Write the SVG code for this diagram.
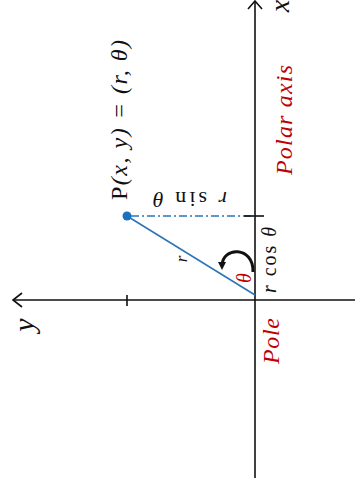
<svg xmlns="http://www.w3.org/2000/svg" width="355" height="493" viewBox="0 0 355 493">
<style>
.ax{stroke:#111;stroke-width:1.6;fill:none}
.m{font-family:"Liberation Serif",serif;font-style:italic;fill:#111}
.red{fill:#C00000}
.up{font-style:normal}
</style>
<defs>
<marker id="ah" markerWidth="8" markerHeight="8" refX="4" refY="4" orient="auto" markerUnits="userSpaceOnUse">
<path d="M0,0 L8,4 L0,8 Z" fill="#111"/>
</marker>
</defs>
<rect width="355" height="493" fill="#fff"/>
<g id="connectors">
<line class="ax" x1="255" y1="1" x2="255" y2="478"/>
<polyline class="ax" points="248,9 255,1 262,9"/>
<line class="ax" x1="13" y1="300" x2="355" y2="300"/>
<polyline class="ax" points="22,293 13,300 22,307"/>
<line class="ax" x1="127" y1="295" x2="127" y2="306"/>
<line x1="131" y1="216" x2="255" y2="216" stroke="#2E75B6" stroke-width="1.3" stroke-dasharray="8 3 2 3"/>
<line class="ax" x1="244" y1="216" x2="264" y2="216"/>
<line x1="127" y1="216" x2="255" y2="295" stroke="#2E75B6" stroke-width="1.6"/>
<path d="M253,272 C254,246 222,246 222,266" stroke="#111" stroke-width="3" fill="none" marker-end="url(#ah)"/>
</g>
<g id="point-P">
<circle cx="127" cy="216" r="4.5" fill="#1F6FC0"/>
<text class="m" x="127" y="120" font-size="24" text-anchor="middle" textLength="160" lengthAdjust="spacing" transform="rotate(-90 127 120)"><tspan class="up">P</tspan>(x, y) = (r, θ)</text>
</g>
<g id="labels">
<text class="m" x="190" y="192" font-size="22" text-anchor="middle" textLength="74" lengthAdjust="spacing" transform="rotate(180 190 192)">r <tspan class="up">sin</tspan> θ</text>
<text class="m red" x="292" y="120" font-size="24" text-anchor="middle" textLength="110" lengthAdjust="spacing" transform="rotate(-90 292 120)">Polar axis</text>
<text class="m" x="289" y="6" font-size="28" text-anchor="middle" fill="#1a1a3a" transform="rotate(-90 289 6)">x</text>
<text class="m" x="34" y="325" font-size="30" text-anchor="middle" transform="rotate(-90 34 325)">y</text>
<text class="m" x="187" y="259" font-size="17" text-anchor="middle" transform="rotate(-90 187 259)">r</text>
<text class="m red" x="251" y="278" font-size="20" text-anchor="middle" transform="rotate(-90 251 278)">θ</text>
<text class="m" x="276" y="260" font-size="20" text-anchor="middle" textLength="66" lengthAdjust="spacing" transform="rotate(-90 276 260)">r <tspan class="up">cos</tspan> θ</text>
<text class="m red" x="279" y="341" font-size="24" text-anchor="middle" textLength="46" lengthAdjust="spacing" transform="rotate(-90 279 341)">Pole</text>
</g>
</svg>
